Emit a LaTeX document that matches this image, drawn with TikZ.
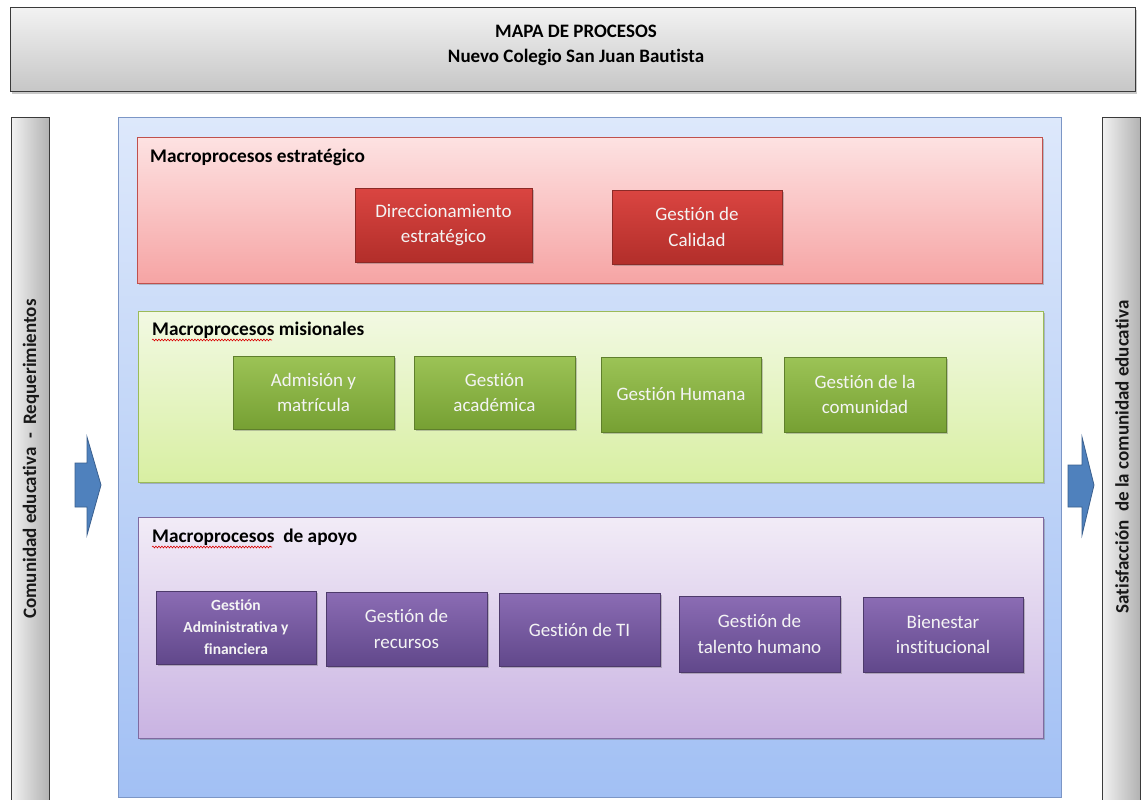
\documentclass[tikz,border=0pt]{standalone}
\usepackage{fontspec}
\setmainfont{Carlito}[Ligatures=NoCommon]
\usetikzlibrary{shadows,decorations.pathmorphing}
\definecolor{titletop}{HTML}{F2F2F2}
\definecolor{titlebot}{HTML}{C6C6C6}
\definecolor{darkborder}{HTML}{3A3A3A}
\definecolor{bluetop}{HTML}{DDE8FB}
\definecolor{bluebot}{HTML}{A2C0F4}
\definecolor{blueborder}{HTML}{7C96C6}
\definecolor{redtop}{HTML}{FDE2E2}
\definecolor{redbot}{HTML}{F6A4A4}
\definecolor{redborder}{HTML}{C0504D}
\definecolor{rednodetop}{HTML}{DA4541}
\definecolor{rednodebot}{HTML}{B22E2A}
\definecolor{rednodeborder}{HTML}{8C2A27}
\definecolor{greentop}{HTML}{F2F9E3}
\definecolor{greenbot}{HTML}{D8EFA2}
\definecolor{greenborder}{HTML}{9BBB59}
\definecolor{greennodetop}{HTML}{9CC356}
\definecolor{greennodebot}{HTML}{76A033}
\definecolor{greennodeborder}{HTML}{5F7F2C}
\definecolor{purpletop}{HTML}{F2ECF7}
\definecolor{purplebot}{HTML}{C9B3E2}
\definecolor{purpleborder}{HTML}{7F6AA0}
\definecolor{purplenodetop}{HTML}{8B6CB4}
\definecolor{purplenodebot}{HTML}{61488B}
\definecolor{purplenodeborder}{HTML}{4D3A6B}
\definecolor{arrowfill}{HTML}{4F81BD}
\definecolor{arrowborder}{HTML}{3A5F8E}
\definecolor{nodetext}{HTML}{F4F4F4}
\begin{document}
\begin{tikzpicture}[x=1pt,y=-1pt,
  boxshadow/.style={drop shadow={shadow xshift=2pt,shadow yshift=-2pt,opacity=0.35,fill=black!60}},
  titlebox/.style={draw=darkborder,line width=1pt,top color=titletop,bottom color=titlebot,boxshadow,inner sep=0pt},
  titletext/.style={font=\bfseries\fontsize{19}{22}\selectfont,text=black,inner sep=0pt},
  sidebar/.style={draw=darkborder,line width=1pt,left color=titletop,right color=titlebot!90!black,inner sep=0pt},
  sidetext/.style={font=\bfseries\fontsize{19}{22}\selectfont,text=black!90,inner sep=0pt,rotate=90},
  outerbox/.style={draw=blueborder,line width=0.8pt,top color=bluetop,bottom color=bluebot,inner sep=0pt},
  panel/.style={line width=0.8pt,boxshadow,inner sep=0pt},
  redpanel/.style={panel,draw=redborder,top color=redtop,bottom color=redbot},
  greenpanel/.style={panel,draw=greenborder,top color=greentop,bottom color=greenbot},
  purplepanel/.style={panel,draw=purpleborder,top color=purpletop,bottom color=purplebot},
  paneltitle/.style={font=\bfseries\fontsize{19.3}{22}\selectfont,text=black,anchor=west,inner sep=0pt},
  procbox/.style={line width=0.8pt,boxshadow,align=center,text=nodetext,inner sep=2pt,
    font=\fontsize{19}{25.5}\selectfont},
  redproc/.style={procbox,draw=rednodeborder,top color=rednodetop,bottom color=rednodebot},
  greenproc/.style={procbox,draw=greennodeborder,top color=greennodetop,bottom color=greennodebot},
  purpleproc/.style={procbox,draw=purplenodeborder,top color=purplenodetop,bottom color=purplenodebot},
  bigarrow/.style={draw=arrowborder,line width=0.8pt,fill=arrowfill},
  spellmark/.style={draw=red!85!black,line width=0.6pt,decorate,decoration={snake,amplitude=0.9pt,segment length=3pt}}
]
\useasboundingbox (0,0) rectangle (1141,800);
\fill[white] (0,0) rectangle (1141,800);

% title
\node[titlebox,minimum width=1125pt,minimum height=84pt] (title) at (572.5,50) {};
\node[titletext] (t1) at (576,31) {MAPA DE PROCESOS};
\node[titletext] (t2) at (576,57) {Nuevo Colegio San Juan Bautista};

% side bars
\node[sidebar,minimum width=38pt,minimum height=700pt,anchor=north] (lbar) at (30,117) {};
\node[sidetext] (ltext) at (31,459) {Comunidad educativa\ \ -\ \ Requerimientos};
\node[sidebar,minimum width=38pt,minimum height=700pt,anchor=north] (rbar) at (1121,117) {};
\node[sidetext] (rtext) at (1122,457) {Satisfacción\ \ de la comunidad educativa};

% arrows
\draw[bigarrow] (75,463) -- (87,463) -- (87,437) -- (101,485) -- (87,535) -- (87,507) -- (75,507) -- cycle;
\draw[bigarrow] (1068,465) -- (1082,465) -- (1082,437) -- (1094,485) -- (1082,535) -- (1082,507) -- (1068,507) -- cycle;

% outer box
\node[outerbox,minimum width=943pt,minimum height=680pt] (outer) at (589.5,457) {};

% strategic
\node[redpanel,minimum width=905pt,minimum height=146pt] (strat) at (589.5,210) {};
\node[paneltitle] (stratlbl) at (150,157) {Macroprocesos estratégico};
\node[redproc,minimum width=177pt,minimum height=74pt] (dir) at (443.5,225) {Direccionamiento\\estratégico};
\node[redproc,minimum width=170pt,minimum height=74pt] (cal) at (697,227) {Gestión de\\Calidad};

% missional
\node[greenpanel,minimum width=905pt,minimum height=171pt] (mis) at (590.5,396.5) {};
\node[paneltitle] (mislbl) at (152,330) {Macroprocesos misionales};
\draw[spellmark] (152,340) -- (272,340);
\node[greenproc,minimum width=161pt,minimum height=73pt] (adm) at (313.5,392.5) {Admisión y\\matrícula};
\node[greenproc,minimum width=161pt,minimum height=73pt] (aca) at (494.5,392.5) {Gestión\\académica};
\node[greenproc,minimum width=160pt,minimum height=75pt] (hum) at (681,394.5) {Gestión Humana};
\node[greenproc,minimum width=162pt,minimum height=75pt] (com) at (865,394.5) {Gestión de la\\comunidad};

% support
\node[purplepanel,minimum width=905pt,minimum height=221pt] (apo) at (590.5,627.5) {};
\node[paneltitle] (apolbl) at (152,537) {Macroprocesos\ \ de apoyo};
\draw[spellmark] (152,547) -- (272,547);
\node[purpleproc,minimum width=160pt,minimum height=73pt,font=\bfseries\fontsize{15.5}{22}\selectfont] (gaf) at (236,627.5) {Gestión\\Administrativa y\\financiera};
\node[purpleproc,minimum width=161pt,minimum height=74pt] (rec) at (406.5,629) {Gestión de\\recursos};
\node[purpleproc,minimum width=161pt,minimum height=73pt] (ti) at (579.5,629.5) {Gestión de TI};
\node[purpleproc,minimum width=161pt,minimum height=76pt] (tal) at (759.5,634) {Gestión de\\talento humano};
\node[purpleproc,minimum width=160pt,minimum height=75pt] (bien) at (943,634.5) {Bienestar\\institucional};
\end{tikzpicture}
\end{document}
